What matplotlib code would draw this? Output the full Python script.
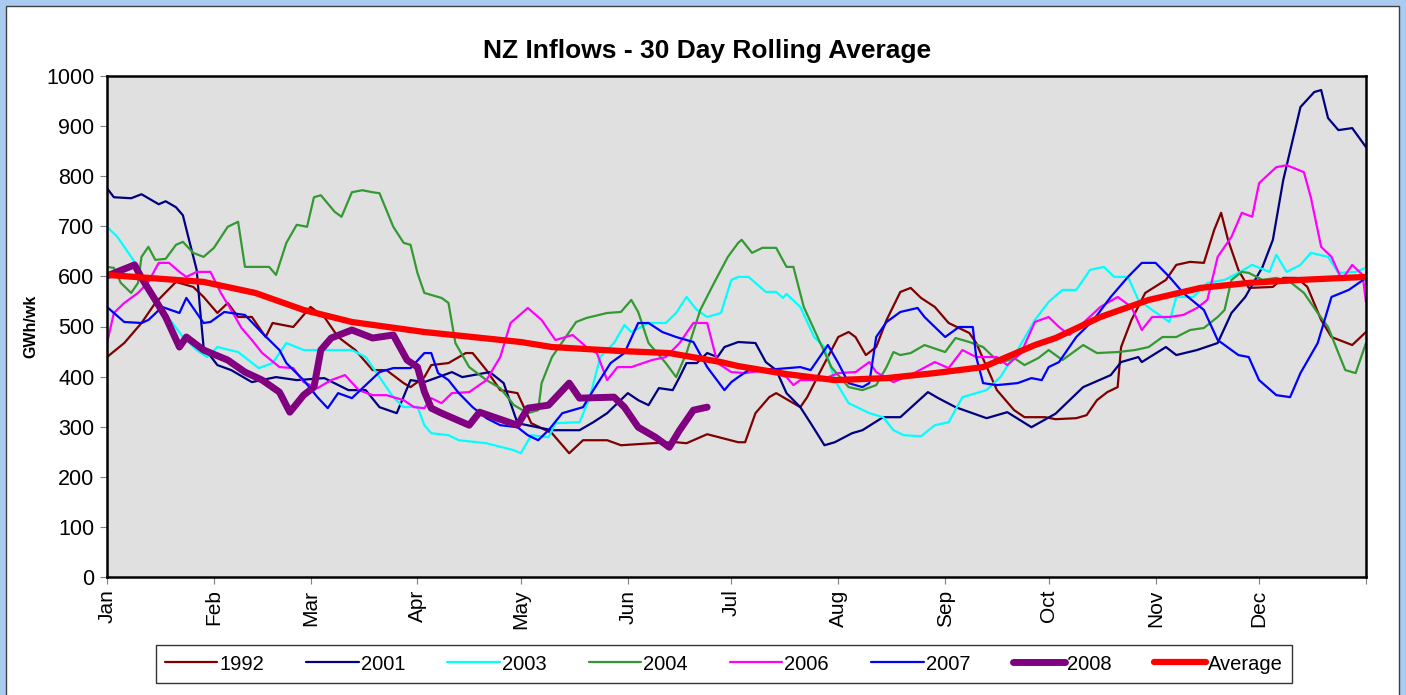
import matplotlib
matplotlib.use("Agg")
import matplotlib.pyplot as plt
from matplotlib.patches import Rectangle

plt.rcParams["font.family"] = ["Liberation Sans", "DejaVu Sans"]

# day of year -> GWh/wk
month_starts = [0, 31, 59, 90, 120, 151, 181, 212, 243, 273, 304, 334]
month_labels = ["Jan", "Feb", "Mar", "Apr", "May", "Jun",
                "Jul", "Aug", "Sep", "Oct", "Nov", "Dec"]

days_1992 = [0, 5, 10, 14, 20, 25, 28, 32, 35, 38, 42, 46, 48, 54, 59, 63, 67, 72, 77, 81,
             86, 88, 92, 94, 99, 104, 106, 110, 114, 119, 123, 129, 134, 138, 145, 149, 158, 165, 168, 174,
             183, 185, 188, 192, 194, 201, 203, 207, 212, 215, 217, 220, 223, 226, 230, 233, 236, 240, 244, 250,
             252, 258, 263, 266, 272, 275, 281, 284, 287, 290, 293, 294, 297, 301, 307, 310, 314, 318, 321, 323,
             325, 328, 331, 338, 341, 345, 348, 352, 355, 361, 365]
vals_1992 = [439, 467, 507, 547, 589, 579, 559, 527, 547, 519, 519, 479, 507, 499, 539, 519, 479, 453, 413, 413,
             387, 379, 399, 423, 427, 447, 447, 413, 373, 367, 307, 287, 247, 273, 273, 263, 267, 269, 267, 285,
             269, 269, 327, 359, 367, 339, 359, 413, 479, 489, 479, 443, 459, 513, 569, 577, 557, 539, 507, 487,
             467, 373, 333, 319, 319, 315, 317, 323, 353, 369, 379, 459, 513, 567, 593, 623, 629, 627, 693, 727,
             673, 613, 577, 579, 597, 597, 579, 513, 479, 463, 489]

days_2001 = [0, 2, 7, 10, 15, 17, 20, 22, 24, 26, 27, 28, 32, 36, 42, 49, 55, 63, 70, 75,
             79, 84, 88, 92, 100, 103, 111, 115, 119, 129, 137, 141, 145, 151, 154, 157, 160, 164, 166, 168,
             171, 174, 177, 179, 183, 188, 191, 194, 197, 201, 204, 208, 211, 216, 219, 225, 230, 238, 241, 246,
             255, 261, 268, 275, 283, 291, 294, 299, 300, 307, 310, 316, 322, 326, 330, 335, 338, 341, 346, 350,
             352, 354, 357, 361, 365]
vals_2001 = [776, 758, 756, 764, 744, 750, 738, 722, 667, 613, 533, 459, 423, 413, 389, 399, 393, 397, 373, 373,
             339, 327, 393, 389, 409, 399, 409, 387, 307, 293, 293, 309, 327, 367, 353, 343, 377, 373, 399, 427,
             427, 447, 439, 459, 469, 467, 429, 413, 367, 339, 307, 263, 269, 287, 293, 319, 319, 369, 357, 339,
             317, 329, 299, 326, 379, 403, 429, 439, 429, 459, 443, 453, 467, 527, 559, 619, 673, 792, 938, 968,
             972, 916, 892, 896, 858]

days_2003 = [0, 3, 7, 10, 14, 19, 22, 26, 29, 32, 38, 44, 48, 52, 57, 63, 71, 75, 79, 83,
             86, 90, 92, 94, 99, 102, 110, 118, 120, 123, 128, 130, 137, 140, 143, 147, 150, 152, 157, 162,
             165, 168, 171, 174, 178, 181, 183, 186, 191, 194, 196, 197, 201, 205, 208, 211, 215, 221, 225, 228,
             231, 236, 240, 244, 248, 255, 259, 264, 269, 273, 277, 281, 285, 289, 292, 296, 299, 303, 308, 310,
             315, 319, 324, 328, 332, 337, 339, 342, 346, 349, 354, 357, 362, 365]
vals_2003 = [699, 679, 639, 607, 547, 507, 479, 453, 439, 459, 449, 417, 427, 467, 453, 453, 453, 439, 399, 359,
             339, 340, 303, 287, 283, 273, 267, 253, 247, 283, 279, 307, 309, 359, 439, 467, 503, 489, 507, 507,
             527, 559, 533, 519, 527, 593, 599, 599, 569, 569, 557, 565, 539, 479, 459, 393, 347, 327, 319, 293,
             283, 281, 303, 309, 359, 373, 399, 453, 513, 549, 573, 573, 613, 619, 599, 599, 553, 533, 509, 559,
             559, 587, 593, 607, 623, 609, 643, 609, 623, 647, 639, 607, 609, 617]

days_2004 = [0, 2, 4, 7, 9, 10, 12, 14, 17, 20, 22, 25, 28, 31, 35, 38, 40, 44, 47, 49,
             52, 55, 58, 60, 62, 66, 68, 71, 74, 77, 79, 83, 86, 88, 90, 92, 97, 99, 101, 105,
             110, 114, 118, 122, 125, 126, 129, 133, 136, 139, 145, 149, 152, 154, 157, 162, 165, 168, 172, 176,
             180, 183, 184, 187, 190, 194, 197, 199, 202, 206, 210, 215, 219, 223, 226, 228, 230, 233, 237, 243,
             246, 250, 254, 257, 259, 263, 266, 270, 273, 277, 283, 287, 293, 298, 302, 306, 310, 314, 318, 322,
             324, 326, 329, 331, 335, 339, 343, 347, 351, 354, 357, 359, 362, 365]
vals_2004 = [619, 617, 587, 567, 587, 639, 659, 633, 635, 663, 669, 647, 639, 657, 699, 709, 619, 619, 619, 603,
             667, 703, 699, 758, 762, 729, 719, 768, 772, 768, 766, 699, 667, 663, 607, 567, 557, 547, 467, 419,
             393, 377, 343, 327, 333, 387, 439, 479, 509, 517, 527, 529, 553, 529, 467, 427, 399, 447, 533, 587,
             639, 667, 673, 647, 657, 657, 619, 619, 539, 479, 419, 379, 373, 383, 419, 449, 443, 447, 463, 449,
             477, 469, 459, 439, 427, 437, 423, 437, 453, 433, 463, 447, 449, 453, 459, 479, 479, 493, 497, 519,
             533, 593, 609, 607, 593, 597, 589, 567, 527, 499, 447, 413, 407, 467]

days_2006 = [0, 2, 5, 9, 12, 15, 18, 21, 23, 26, 30, 33, 36, 39, 42, 45, 50, 54, 57, 61,
             65, 69, 73, 77, 81, 86, 89, 92, 94, 97, 100, 105, 110, 114, 117, 122, 126, 130, 135, 139,
             142, 145, 148, 152, 158, 162, 166, 170, 174, 177, 181, 185, 191, 197, 199, 201, 207, 212, 217, 221,
             223, 228, 234, 240, 244, 248, 252, 258, 261, 265, 269, 273, 276, 279, 283, 288, 293, 297, 300, 303,
             308, 312, 316, 319, 322, 326, 329, 332, 334, 339, 342, 347, 349, 352, 355, 358, 361, 364, 365]
vals_2006 = [467, 527, 547, 567, 589, 627, 627, 609, 599, 609, 609, 567, 533, 497, 473, 447, 419, 417, 389, 377,
             393, 403, 373, 363, 363, 353, 339, 337, 357, 347, 367, 369, 393, 439, 507, 537, 513, 473, 483, 459,
             447, 393, 419, 419, 433, 439, 467, 507, 507, 427, 409, 407, 413, 399, 383, 393, 393, 407, 409, 429,
             409, 389, 407, 429, 417, 453, 439, 439, 423, 447, 509, 519, 499, 483, 507, 539, 559, 539, 493, 519,
             519, 523, 537, 553, 639, 679, 727, 719, 786, 818, 822, 808, 758, 659, 639, 593, 623, 603, 549]

days_2007 = [0, 5, 10, 12, 16, 21, 23, 28, 30, 34, 40, 45, 50, 52, 57, 61, 64, 67, 71, 75,
             79, 83, 88, 92, 94, 96, 99, 102, 106, 110, 114, 119, 122, 125, 128, 132, 138, 141, 146, 150,
             154, 157, 161, 165, 170, 174, 179, 181, 183, 186, 194, 201, 204, 209, 212, 215, 219, 221, 223, 226,
             230, 235, 237, 243, 247, 251, 252, 254, 258, 264, 268, 271, 273, 276, 281, 286, 291, 296, 300, 304,
             308, 312, 318, 322, 328, 331, 334, 339, 343, 346, 351, 355, 360, 365]
vals_2007 = [539, 509, 507, 513, 539, 527, 557, 507, 509, 529, 523, 487, 453, 427, 393, 359, 337, 367, 357, 383,
             409, 417, 417, 447, 447, 407, 393, 367, 339, 317, 303, 299, 283, 273, 293, 327, 339, 373, 427, 447,
             507, 507, 489, 479, 469, 419, 373, 389, 399, 413, 415, 419, 413, 463, 427, 387, 379, 387, 479, 509,
             529, 537, 519, 479, 499, 499, 439, 387, 383, 387, 397, 393, 419, 429, 479, 513, 559, 599, 627, 627,
             599, 567, 533, 473, 443, 439, 393, 363, 359, 407, 467, 559, 573, 597]

days_2008 = [0, 8, 10, 14, 17, 21, 23, 28, 35, 40, 45, 50, 53, 57, 60, 62, 65, 71, 77, 83,
             87, 90, 92, 94, 97, 105, 108, 119, 122, 128, 134, 137, 147, 150, 154, 159, 163, 166, 170, 174]
vals_2008 = [601, 623, 597, 553, 519, 459, 479, 453, 433, 409, 393, 369, 329, 363, 379, 453, 477, 493, 477, 483,
             433, 419, 370, 337, 327, 303, 329, 303, 337, 343, 387, 357, 359, 339, 299, 279, 259, 293, 333, 339]

days_avg = [0, 28, 43, 57, 71, 92, 120, 129, 149, 163, 178, 183, 197, 211, 226, 240, 254, 269, 275, 288,
            302, 317, 331, 346, 365]
vals_avg = [603, 589, 567, 533, 509, 489, 469, 459, 451, 447, 429, 421, 405, 393, 397, 407, 419, 463, 477, 519,
            553, 577, 587, 593, 599]

series = [
    ("1992", days_1992, vals_1992, "#800000", 1.6),
    ("2001", days_2001, vals_2001, "#000080", 1.6),
    ("2003", days_2003, vals_2003, "#00ffff", 1.6),
    ("2004", days_2004, vals_2004, "#339933", 1.6),
    ("2006", days_2006, vals_2006, "#ff00ff", 1.6),
    ("2007", days_2007, vals_2007, "#0000ff", 1.6),
    ("2008", days_2008, vals_2008, "#800080", 5.0),
    ("Average", days_avg, vals_avg, "#ff0000", 4.5),
]

fig = plt.figure(figsize=(14.06, 6.95), dpi=100)
fig.patch.set_facecolor("#a9cbf0")
# white chart area with a thin dark frame, inside the light blue border
fig.patches.append(Rectangle((6 / 1406, -0.05), 1393 / 1406, 1 - 6 / 695 + 0.05,
                             transform=fig.transFigure, facecolor="white",
                             edgecolor="#404040", linewidth=1.0, zorder=-10))

ax = fig.add_axes([107 / 1406, 1 - 577 / 695, 1259 / 1406, 501 / 695])
ax.set_zorder(1)
ax.set_facecolor("#e0e0e0")

for name, d, v, color, lw in series:
    ax.plot(d, v, color=color, linewidth=lw, label=name,
            solid_capstyle="round", solid_joinstyle="round")

ax.set_xlim(0, 365)
ax.set_ylim(0, 1000)
ax.set_yticks(range(0, 1001, 100))
ax.set_xticks(month_starts + [365])
ax.set_xticklabels(month_labels + [""], rotation=90, fontsize=15)
ax.tick_params(axis="y", labelsize=15.5, direction="out", length=5, color="#808080", pad=4)
ax.tick_params(axis="x", direction="out", length=5, color="#808080", pad=4)
for spine in ax.spines.values():
    spine.set_linewidth(1.8)
    spine.set_color("black")

ax.set_ylabel("GWh/wk", fontsize=11.5, fontweight="bold", labelpad=6)
fig.text(707 / 1406, 1 - 51 / 695, "NZ Inflows - 30 Day Rolling Average",
         ha="center", va="center", fontsize=19, fontweight="bold")

leg = fig.legend(loc="center", bbox_to_anchor=(724 / 1406, 1 - 664 / 695), ncol=8,
                 fontsize=14.5, frameon=True, fancybox=False, edgecolor="black",
                 handlelength=2.6, handletextpad=0.1, columnspacing=2.1,
                 borderpad=0.45)
leg.get_frame().set_linewidth(1.0)

fig.savefig("out.png", dpi=100, facecolor=fig.get_facecolor())
